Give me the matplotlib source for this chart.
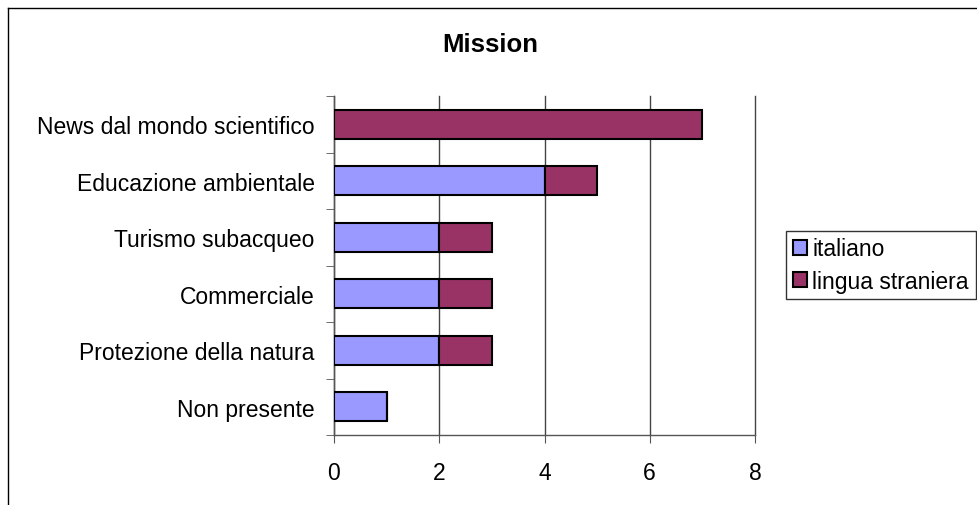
import matplotlib
matplotlib.use("Agg")
import matplotlib.pyplot as plt
import numpy as np
from matplotlib.lines import Line2D

plt.rcParams["font.family"] = ["Liberation Sans", "DejaVu Sans"]

categories = ["News dal mondo scientifico", "Educazione ambientale", "Turismo subacqueo",
              "Commerciale", "Protezione della natura", "Non presente"]
italiano = [0, 4, 2, 2, 2, 1]
straniera = [7, 1, 1, 1, 1, 0]
series_names = ["italiano", "lingua straniera"]
colors = ["#9999FF", "#993366"]

fig = plt.figure(figsize=(9.78, 5.06), dpi=100)
ax = fig.add_axes([334 / 978, 1 - 436 / 506, 421 / 978, 339 / 506])

y = np.arange(len(categories))[::-1]
ax.barh(y, italiano, height=0.52, color=colors[0], edgecolor="black", linewidth=1.5,
        label=series_names[0], zorder=3)
ax.barh(y, straniera, left=italiano, height=0.52, color=colors[1], edgecolor="black",
        linewidth=1.5, label=series_names[1], zorder=3)

ax.set_xlim(0, 8)
ax.set_ylim(-0.5, len(categories) - 0.5)
ax.set_xticks([0, 2, 4, 6, 8])
ax.set_yticks(y)
ax.set_yticklabels(categories)
ax.set_yticks(np.arange(len(categories) + 1) - 0.5, minor=True)
ax.tick_params(axis="y", which="major", length=0, pad=14, labelsize=16.5)
ax.tick_params(axis="y", which="minor", length=6, direction="out", color="#555555")
ax.tick_params(axis="x", length=6, direction="out", color="#555555", labelsize=16.5, pad=13)
ax.xaxis.grid(True, color="#444444", linewidth=1, zorder=0)
for gl in ax.get_xgridlines():
    gl.set_clip_on(False)
for s in ["top", "right"]:
    ax.spines[s].set_visible(False)
for s in ["left", "bottom"]:
    ax.spines[s].set_color("#555555")
    ax.spines[s].set_linewidth(1)

fig.text(490 / 978, 1 - 45 / 506, "Mission", ha="center", va="center",
         fontsize=18.5, fontweight="bold")

leg = ax.legend(loc="center left", bbox_to_anchor=(786 / 978, 1 - 266 / 506),
                bbox_transform=fig.transFigure, frameon=True, fancybox=False,
                fontsize=16.5, handlelength=0.6, handleheight=0.6, handletextpad=0.25,
                borderpad=0.3, labelspacing=0.4, borderaxespad=0)
leg.get_frame().set_edgecolor("black")
leg.get_frame().set_linewidth(1)

fig.add_artist(Line2D([8 / 978, 1], [1 - 9 / 506, 1 - 9 / 506], color="black",
                      linewidth=1, transform=fig.transFigure))
fig.add_artist(Line2D([8 / 978, 8 / 978], [0, 1 - 9 / 506], color="black",
                      linewidth=1, transform=fig.transFigure))

fig.savefig("out.png", dpi=100)
